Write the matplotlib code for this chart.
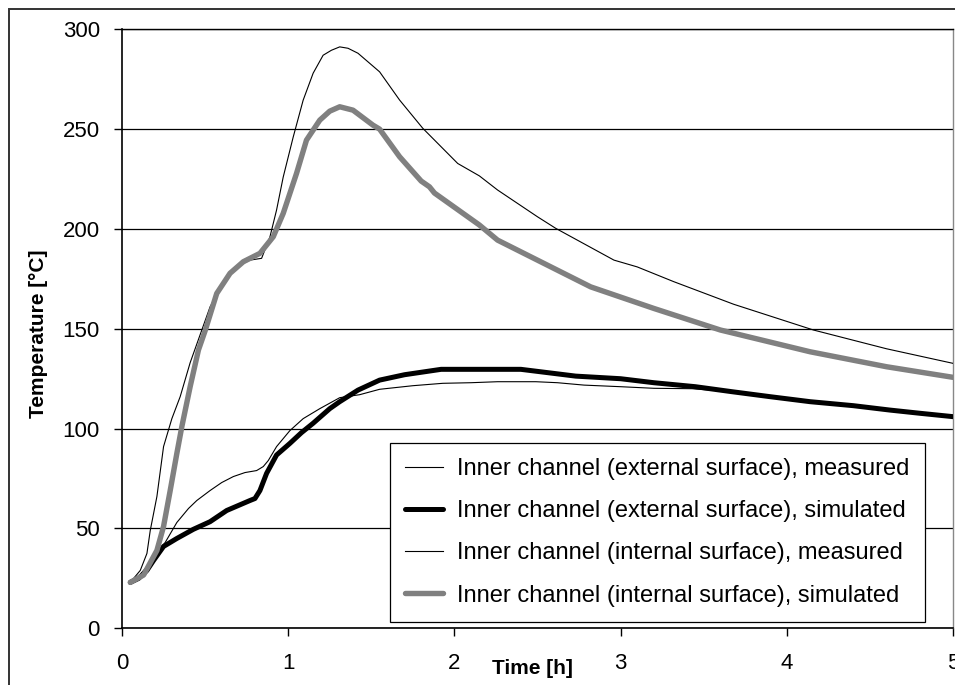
import matplotlib
matplotlib.use("Agg")
import matplotlib.pyplot as plt
from matplotlib.patches import Rectangle

plt.rcParams['font.family'] = ['Liberation Sans', 'DejaVu Sans']

# ---- data (time in h, temperature in °C) ----
t_ext_meas = [0.05, 0.10, 0.15, 0.20, 0.26, 0.33, 0.40, 0.45, 0.53, 0.60, 0.67, 0.74, 0.81, 0.85, 0.88,
              0.93, 1.01, 1.09, 1.19, 1.31, 1.43, 1.55, 1.75, 1.93, 2.10, 2.26, 2.49, 2.62, 2.78, 3.00,
              3.20, 3.43, 3.67, 3.90, 4.14, 4.40, 4.62, 4.80, 5.00]
y_ext_meas = [23, 26, 31, 37, 43, 53, 60, 64, 69, 73, 76, 78, 79, 81, 84,
              91, 99, 105, 110, 115.5, 117, 119.7, 121.5, 122.7, 123, 123.5, 123.5, 123, 121.8, 121,
              120.2, 120, 118.5, 116, 113.5, 111.5, 109.3, 107.7, 106]

t_ext_sim = [0.05, 0.10, 0.15, 0.19, 0.25, 0.33, 0.43, 0.53, 0.63, 0.70, 0.77, 0.80, 0.83, 0.87, 0.93,
             1.01, 1.08, 1.15, 1.25, 1.31, 1.42, 1.55, 1.70, 1.92, 2.10, 2.40, 2.73, 3.00, 3.20, 3.45,
             3.67, 3.90, 4.14, 4.40, 4.62, 4.80, 5.00]
y_ext_sim = [23, 25, 29, 34, 41, 45, 49.6, 53.4, 59, 61.5, 64, 65, 69, 77.6, 86.8,
             92.6, 98, 102.7, 110, 113.5, 119.3, 124.3, 127, 129.7, 129.7, 129.7, 126.3, 125, 123, 121,
             118.5, 116, 113.5, 111.5, 109.3, 107.7, 106]

t_int_meas = [0.05, 0.11, 0.15, 0.17, 0.21, 0.25, 0.30, 0.35, 0.41, 0.47, 0.53, 0.61, 0.69, 0.77, 0.84,
              0.89, 0.93, 0.97, 1.03, 1.09, 1.15, 1.21, 1.26, 1.31, 1.36, 1.42, 1.55, 1.67, 1.81, 2.02,
              2.15, 2.26, 2.50, 2.61, 2.96, 3.10, 3.32, 3.68, 4.16, 4.60, 5.00]
y_int_meas = [23, 29, 37.5, 49, 66, 91, 105, 116, 133, 147, 161, 173, 181, 184.4, 185.3,
              196, 209.5, 226, 246, 264.5, 278, 287, 289.5, 291.2, 290.5, 288, 278.7, 264.6, 250.4, 232.8,
              226.6, 219.5, 206.1, 200.3, 184.4, 181, 173.6, 162.3, 149.4, 140, 132.7]

t_int_sim = [0.05, 0.13, 0.21, 0.25, 0.29, 0.33, 0.36, 0.41, 0.46, 0.50, 0.57, 0.65, 0.73, 0.83, 0.91,
             0.97, 1.05, 1.11, 1.19, 1.25, 1.31, 1.39, 1.51, 1.55, 1.67, 1.80, 1.85, 1.88, 2.15, 2.26,
             2.82, 3.20, 3.60, 4.14, 4.60, 5.00]
y_int_sim = [23, 26.7, 39, 51, 69, 87.6, 101, 121, 139.4, 149, 167.7, 177.8, 183.6, 187.8, 196.1,
             207.8, 227.8, 244.5, 254.5, 259, 261.2, 259.5, 252, 250, 236.2, 224, 221.1, 218, 202, 194.4,
             171, 160.2, 149.4, 138.5, 131, 125.7]

labels = ["Inner channel (external surface), measured",
          "Inner channel (external surface), simulated",
          "Inner channel (internal surface), measured",
          "Inner channel (internal surface), simulated"]
x_ticks = [0, 1, 2, 3, 4, 5]
y_ticks = [0, 50, 100, 150, 200, 250, 300]

W, H = 955, 685
fig = plt.figure(figsize=(W / 100, H / 100), dpi=100)
ax = fig.add_axes([122 / W, (H - 628.3) / H, 831 / W, 599 / H])

# outer chart border (partly cropped in the reference)
fig.add_artist(Rectangle((9 / W, -0.05), 1.1, 1.05 - 9 / H, transform=fig.transFigure,
                         fill=False, edgecolor='#333333', linewidth=1.4, clip_on=False))

ax.plot(t_ext_meas, y_ext_meas, color='black', linewidth=0.8, label=labels[0], zorder=3)
ax.plot(t_ext_sim, y_ext_sim, color='black', linewidth=3.6, label=labels[1], zorder=4,
        solid_capstyle='round', solid_joinstyle='round')
ax.plot(t_int_meas, y_int_meas, color='black', linewidth=0.8, label=labels[2], zorder=5)
ax.plot(t_int_sim, y_int_sim, color='#808080', linewidth=3.9, label=labels[3], zorder=6,
        solid_capstyle='round', solid_joinstyle='round')

ax.set_xlim(0, 5)
ax.set_ylim(0, 300)
ax.set_xticks(x_ticks)
ax.set_yticks(y_ticks)
ax.set_xticklabels([str(v) for v in x_ticks])
ax.set_yticklabels([str(v) for v in y_ticks])
ax.yaxis.grid(True, color='black', linewidth=0.9)
ax.set_axisbelow(True)

ax.tick_params(axis='both', labelsize=16, length=6, width=1, color='black', direction='out')
ax.tick_params(axis='y', pad=10)
ax.tick_params(axis='x', pad=12)

for s in ['left', 'bottom']:
    ax.spines[s].set_color('black')
    ax.spines[s].set_linewidth(1.2)
ax.spines['top'].set_color('black')
ax.spines['top'].set_linewidth(1.0)
ax.spines['right'].set_color('#888888')
ax.spines['right'].set_linewidth(1.0)

ax.set_ylabel("Temperature [°C]", fontsize=15, fontweight='bold')
ax.yaxis.set_label_coords((48 - 122) / 831, (628.3 - 334) / 599)
ax.set_xlabel("Time [h]", fontsize=15, fontweight='bold', va='center')
ax.xaxis.set_label_coords((532 - 122) / 831, (628.3 - 669) / 599)

leg = ax.legend(loc='upper left', bbox_to_anchor=((390 - 122) / 831, (628.3 - 443) / 599),
                borderaxespad=0, fontsize=17, frameon=True, fancybox=False,
                edgecolor='black', framealpha=1, handlelength=1.6, handletextpad=0.6,
                labelspacing=0.85, borderpad=0.65)
leg.get_frame().set_linewidth(0.9)
leg.set_zorder(10)

fig.savefig("out.png", dpi=100)
